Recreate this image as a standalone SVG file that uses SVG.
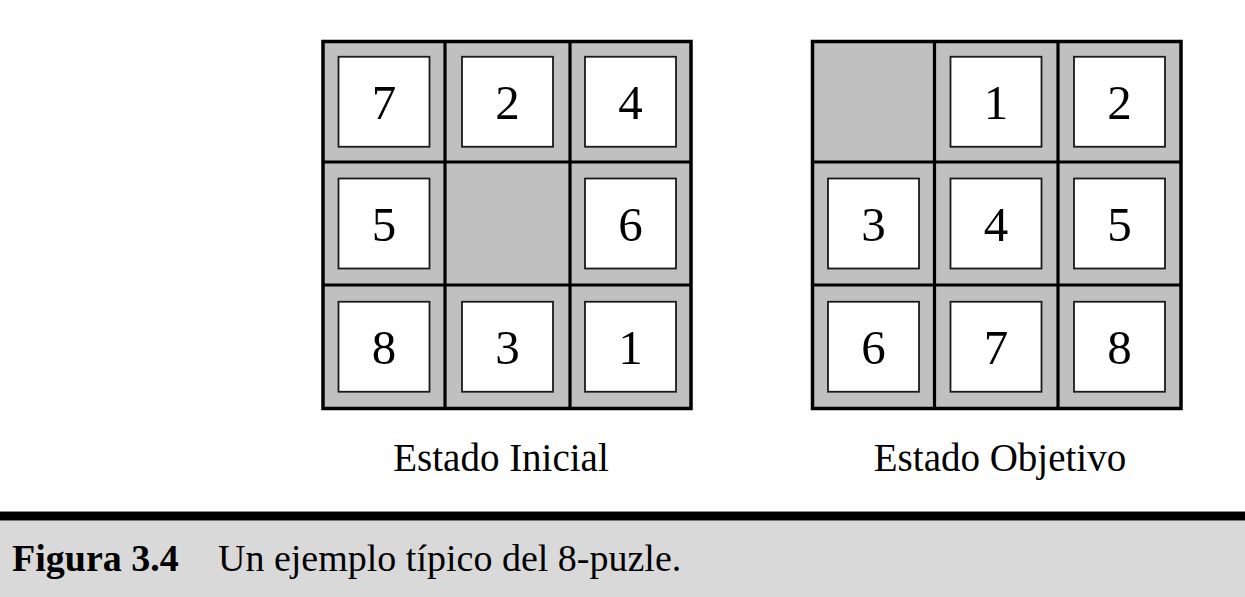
<svg xmlns="http://www.w3.org/2000/svg" width="1245" height="597" viewBox="0 0 1245 597">
<style>
.board{fill:#c0c0c0;stroke:#000;stroke-width:3.5}
.div{stroke:#000;stroke-width:3.2}
.tile{fill:#fff;stroke:#1a1a1a;stroke-width:1.8}
.num{font-family:"Liberation Serif","Times New Roman",serif;font-size:49px;text-anchor:middle;fill:#000}
.lbl{font-family:"Liberation Serif","Times New Roman",serif;font-size:39px;text-anchor:middle;fill:#000}
.cap{font-family:"Liberation Serif","Times New Roman",serif;font-size:38px;fill:#000}
</style>
<rect width="1245" height="597" fill="#fff"/>
<g id="estado-inicial">
<rect class="board" x="323" y="41.5" width="368" height="367"/>
<line class="div" x1="445" y1="41.5" x2="445" y2="408.5"/>
<line class="div" x1="570" y1="41.5" x2="570" y2="408.5"/>
<line class="div" x1="323" y1="162" x2="691" y2="162"/>
<line class="div" x1="323" y1="285" x2="691" y2="285"/>
<rect class="tile" x="338.5" y="56.75" width="91" height="90"/>
<text class="num" x="384" y="118.5">7</text>
<rect class="tile" x="462" y="56.75" width="91" height="90"/>
<text class="num" x="507.5" y="118.5">2</text>
<rect class="tile" x="585" y="56.75" width="91" height="90"/>
<text class="num" x="630.5" y="118.5">4</text>
<rect class="tile" x="338.5" y="178.5" width="91" height="90"/>
<text class="num" x="384" y="240.5">5</text>
<rect class="tile" x="585" y="178.5" width="91" height="90"/>
<text class="num" x="630.5" y="240.5">6</text>
<rect class="tile" x="338.5" y="301.75" width="91" height="90"/>
<text class="num" x="384" y="364">8</text>
<rect class="tile" x="462" y="301.75" width="91" height="90"/>
<text class="num" x="507.5" y="364">3</text>
<rect class="tile" x="585" y="301.75" width="91" height="90"/>
<text class="num" x="630.5" y="364">1</text>
<text class="lbl" x="501" y="471">Estado Inicial</text>
</g>
<g id="estado-objetivo">
<rect class="board" x="812.5" y="41.5" width="368.5" height="367"/>
<line class="div" x1="934.5" y1="41.5" x2="934.5" y2="408.5"/>
<line class="div" x1="1058" y1="41.5" x2="1058" y2="408.5"/>
<line class="div" x1="812.5" y1="162" x2="1181" y2="162"/>
<line class="div" x1="812.5" y1="285" x2="1181" y2="285"/>
<rect class="tile" x="950.5" y="56.75" width="91" height="90"/>
<text class="num" x="996" y="118.5">1</text>
<rect class="tile" x="1074" y="56.75" width="91" height="90"/>
<text class="num" x="1119.5" y="118.5">2</text>
<rect class="tile" x="828" y="178.5" width="91" height="90"/>
<text class="num" x="873.5" y="240.5">3</text>
<rect class="tile" x="950.5" y="178.5" width="91" height="90"/>
<text class="num" x="996" y="240.5">4</text>
<rect class="tile" x="1074" y="178.5" width="91" height="90"/>
<text class="num" x="1119.5" y="240.5">5</text>
<rect class="tile" x="828" y="301.75" width="91" height="90"/>
<text class="num" x="873.5" y="364">6</text>
<rect class="tile" x="950.5" y="301.75" width="91" height="90"/>
<text class="num" x="996" y="364">7</text>
<rect class="tile" x="1074" y="301.75" width="91" height="90"/>
<text class="num" x="1119.5" y="364">8</text>
<text class="lbl" x="1000" y="471">Estado Objetivo</text>
</g>
<g id="caption">
<rect x="0" y="520.5" width="1245" height="76.5" fill="#d9d9d9"/>
<rect x="0" y="511" width="1245" height="1" fill="#888"/>
<rect x="0" y="512" width="1245" height="8.5" fill="#000"/>
<text class="cap" x="12" y="571" font-weight="bold">Figura 3.4</text>
<text class="cap" x="218" y="571">Un ejemplo típico del 8-puzle.</text>
</g>
<g id="connectors"/>
</svg>
